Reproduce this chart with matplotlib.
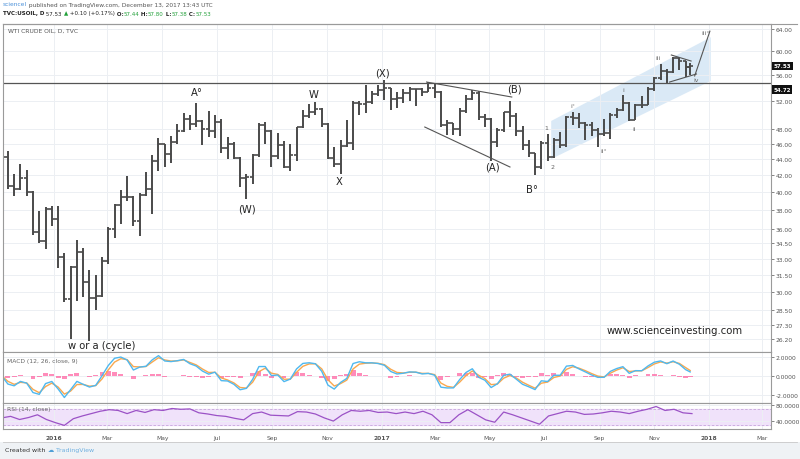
import matplotlib
matplotlib.use("Agg")
import matplotlib.pyplot as plt
import matplotlib.dates as mdates
import matplotlib.transforms as mtransforms
from matplotlib.patches import Polygon, Rectangle
import numpy as np
import pandas as pd

# ---------------- data (weekly bars) ----------------
week_ends = list(pd.date_range("2015-11-06", "2017-12-08", freq="W-FRI")) + [pd.Timestamp("2017-12-13")]
open_first = 46.6
close = [44.29, 40.74, 40.39, 41.71, 39.97, 35.62, 34.73, 38.10, 37.04,
         33.16, 29.42, 32.19, 33.62, 30.89, 29.44, 29.64, 32.78, 35.92, 38.50, 39.44, 39.46, 36.79,
         39.72, 40.36, 43.73, 45.92, 44.66, 46.21, 47.75, 49.33, 48.62, 49.07, 47.98, 47.64, 48.99,
         45.41, 45.95, 44.19, 41.60, 41.80, 44.49, 48.52, 47.64, 44.44, 45.88, 43.03, 44.48, 48.24,
         49.81, 50.35, 50.85, 48.70, 44.07, 43.41, 45.69, 46.06, 51.68, 51.50, 51.90, 53.02, 53.72,
         53.99, 52.37, 52.42, 53.17, 53.83, 53.86, 53.40, 53.99, 53.33, 48.49, 48.78, 47.97, 50.60,
         52.24, 53.18, 49.62, 49.33, 46.22, 47.84, 50.33, 49.80, 47.66, 45.83, 44.74, 43.01, 46.04,
         44.23, 46.54, 45.77, 49.71, 49.58, 48.82, 48.51, 47.87, 47.29, 47.48, 49.89, 50.66, 51.67,
         49.29, 51.45, 51.47, 53.90, 55.64, 56.74, 56.55, 58.95, 58.36, 57.36, 57.53]
high = [47.9, 45.0, 42.2, 43.4, 42.6, 40.1, 37.9, 38.3, 38.4,
        38.4, 33.6, 32.3, 34.8, 34.0, 32.0, 31.5, 33.2, 36.2, 38.6, 40.2, 41.9, 39.5, 39.9, 42.4,
        44.5, 46.8, 46.0, 47.0, 48.7, 50.2, 50.0, 51.67, 49.2, 50.5, 49.9, 49.4, 46.9, 46.2, 44.2,
        42.1, 44.7, 48.75, 48.9, 47.9, 47.4, 46.4, 46.0, 48.3, 50.7, 51.6, 51.9, 51.0, 48.8, 45.5,
        46.5, 49.2, 52.0, 52.0, 54.51, 53.6, 54.4,
        55.24, 54.0, 53.4, 53.9, 54.1, 53.9, 54.0, 54.9, 54.6, 53.6, 49.3, 48.8, 50.9, 52.9, 53.76,
        53.5, 50.1, 49.5, 48.1, 50.4, 52.0, 50.3, 48.4, 46.5, 44.8, 46.4, 47.3, 46.8, 47.5, 49.8,
        50.4, 50.2, 49.0, 48.9, 48.1, 49.4, 50.2, 51.0, 52.9, 51.8, 51.6, 52.8, 54.2, 55.7, 57.9,
        57.0, 59.05, 59.0, 58.4, 58.0]
low = [44.1, 40.4, 39.5, 40.2, 39.6, 35.3, 34.5, 33.98, 36.3,
       32.1, 29.13, 26.19, 29.25, 29.6, 26.05, 28.5, 29.6, 32.5, 35.0, 36.5, 39.0, 36.3, 35.2, 39.5,
       37.6, 42.5, 43.0, 43.5, 46.0, 47.5, 47.8, 48.3, 45.8, 46.9, 46.7, 44.8, 44.0, 44.0, 40.6,
       39.19, 41.0, 44.3, 46.0, 43.0, 44.0, 42.9, 42.5, 43.8, 48.1, 49.5, 49.9, 48.3, 44.0, 43.0,
       42.2, 45.5, 45.2, 49.9, 50.3, 51.5, 52.8,
       52.1, 50.7, 50.9, 51.7, 52.0, 51.2, 52.7, 53.3, 52.5, 48.3, 47.1, 47.1, 47.0, 50.2, 52.2,
       49.3, 48.2, 43.76, 45.5, 47.6, 48.2, 47.0, 45.2, 44.2, 42.05, 42.8, 43.8, 44.1, 45.4, 45.5,
       48.5, 48.1, 46.5, 47.0, 45.6, 47.0, 46.6, 49.5, 50.5, 49.1, 49.2, 51.0, 51.4, 53.6, 55.3,
       54.8, 56.3, 56.8, 55.8, 56.1]

# RSI (14, close) every 10 days
rsi_dates = pd.date_range("2015-11-04", periods=78, freq="10D")
rsi_values = [47, 51, 43, 48, 55, 43, 35, 28, 45, 52, 58, 64, 68, 66, 58, 66, 61, 68, 66, 71,
              69, 70, 60, 57, 53, 51, 46, 42, 58, 62, 54, 53, 52, 63, 62, 57, 47, 39, 55, 66,
              64, 66, 61, 62, 58, 62, 58, 64, 55, 35, 35, 55, 68, 55, 42, 36, 62, 55, 47, 39,
              31, 52, 58, 64, 62, 56, 57, 60, 64, 62, 58, 64, 69, 76, 66, 69, 60, 58]

price_ticks = [64, 60, 56, 52, 48, 46, 44, 42, 40, 38, 36, 34.5, 33, 31.5, 30, 28.5, 27.3, 26.2]
macd_ticks = [2, 0, -2]
rsi_ticks = [80, 40]
month_ticks = list(pd.date_range("2016-01-01", "2018-03-01", freq="2MS"))
month_labels = ["2016", "Mar", "May", "Jul", "Sep", "Nov", "2017", "Mar", "May", "Jul", "Sep", "Nov", "2018", "Mar"]

hline_level = 54.85
last_close = 57.53
line_tag = "54.72"
line_tag_y = 53.75

wave_labels = [("w or a (cycle)", "2016-02-24", 25.74), ("A°", "2016-06-09", 53.36),
               ("W", "2016-10-17", 53.07), ("(W)", "2016-08-04", 38.1), ("X", "2016-11-15", 41.3),
               ("(X)", "2017-01-02", 56.5), ("(B)", "2017-05-29", 53.84), ("(A)", "2017-05-05", 43.0),
               ("B°", "2017-06-18", 40.4)]
minor_labels = [("1", "2017-07-03", 48.25), ("2", "2017-07-11", 43.0), ("i°", "2017-08-02", 51.3),
                ("ii°", "2017-09-06", 45.1), ("i", "2017-09-27", 53.7), ("ii", "2017-10-09", 48.1),
                ("iii", "2017-11-05", 58.87), ("iv", "2017-12-18", 55.4), ("iii°", "2017-12-28", 63.45)]
channel_dates = ["2017-07-09", "2017-07-09", "2018-01-03", "2018-01-03"]
channel_prices = [44.0, 49.1, 62.5, 55.1]
trend_lines = [(("2017-02-20", 54.93), ("2017-05-26", 52.61)),
               (("2017-02-18", 48.25), ("2017-05-24", 43.0)),
               (("2017-11-20", 59.38), ("2017-12-12", 58.36)),
               (("2017-11-18", 54.93), ("2017-12-18", 56.22)),
               (("2017-12-16", 55.9), ("2018-01-02", 63.6))]

# ---------------- figure ----------------
W, H = 800, 460
fig = plt.figure(figsize=(8, 4.6), dpi=100)
fig.patch.set_facecolor("white")

def fx(px):
    return px / W

def fy(py):
    return 1 - py / H

L, R = 3, 771
ax = fig.add_axes([fx(L), fy(353), fx(R) - fx(L), fy(25) - fy(353)])
mx = fig.add_axes([fx(L), fy(404), fx(R) - fx(L), fy(353) - fy(404)], sharex=ax)
rx = fig.add_axes([fx(L), fy(430), fx(R) - fx(L), fy(404) - fy(430)], sharex=ax)

dn = mdates.date2num(week_ends) - 2.0
c = np.array(close)
o = np.r_[open_first, c[:-1]]
hi = np.array(high)
lo = np.array(low)

grid_c = "#eceff3"
spine_c = "#9a9a9a"
txt_c = "#555555"

for a in (ax, mx, rx):
    for s in a.spines.values():
        s.set_color(spine_c)
        s.set_linewidth(0.8)
    a.set_facecolor("white")
    a.yaxis.tick_right()
    a.tick_params(axis="y", which="both", labelsize=4.3, colors=txt_c, length=2, pad=1.5, width=0.5)
    a.tick_params(axis="x", which="both", length=0)
    a.set_xticks(mdates.date2num(month_ticks))
    a.grid(True, color=grid_c, lw=0.7)
    a.set_axisbelow(True)

x0 = mdates.date2num(pd.Timestamp("2016-01-01")) - 50.6 / 0.8966
x1 = mdates.date2num(pd.Timestamp("2018-01-01")) + 62 / 0.8966
ax.set_xlim(x0, x1)

# main price panel
ax.set_yscale("log")
ax.set_ylim(25.23, 64.93)
ax.yaxis.set_minor_locator(matplotlib.ticker.NullLocator())
ax.set_yticks(price_ticks)
ax.set_yticklabels(["%.2f" % v for v in price_ticks])
plt.setp(ax.get_xticklabels(), visible=False)
plt.setp(mx.get_xticklabels(), visible=False)

bar_c = "#4a4a4a"
ax.vlines(dn, lo, hi, color=bar_c, lw=1.4)
ax.hlines(o, dn - 3.4, dn, color=bar_c, lw=1.2)
ax.hlines(c, dn, dn + 3.4, color=bar_c, lw=1.2)

ax.axhline(hline_level, color="#555555", lw=0.9)

chan = Polygon(list(zip(mdates.date2num(pd.to_datetime(channel_dates)), channel_prices)),
               closed=True, fc="#d4e6f5", ec="none", alpha=0.85, zorder=0.5)
ax.add_patch(chan)
for (d1, p1), (d2, p2) in trend_lines:
    ax.plot(mdates.date2num(pd.to_datetime([d1, d2])), [p1, p2], color="#555555", lw=0.8)

for s, d, p in wave_labels:
    ax.text(mdates.date2num(pd.Timestamp(d)), p, s, fontsize=7.2, color="#222222",
            ha="center", va="center", clip_on=False)
for s, d, p in minor_labels:
    ax.text(mdates.date2num(pd.Timestamp(d)), p, s, fontsize=4.5, color="#666666",
            ha="center", va="center")

blend = mtransforms.blended_transform_factory(ax.transAxes, ax.transData)
for val, lab in ((last_close, "%.2f" % last_close), (line_tag_y, line_tag)):
    ax.text(1.003, val, lab, transform=blend, fontsize=4.0, color="white", fontweight="bold",
            ha="left", va="center", clip_on=False,
            bbox=dict(boxstyle="square,pad=0.3", fc="#111111", ec="none"))

# MACD panel (computed from the weekly closes, periods expressed in weeks)
alpha_fast = 1 - (1 - 2 / 13) ** 5
alpha_slow = 1 - (1 - 2 / 27) ** 5
alpha_sig = 1 - (1 - 2 / 10) ** 5
cs = pd.Series(c)
macd = cs.ewm(alpha=alpha_fast, adjust=False).mean() - cs.ewm(alpha=alpha_slow, adjust=False).mean()
signal = macd.ewm(alpha=alpha_sig, adjust=False).mean()
hist = macd - signal
mx.bar(dn, hist, width=5.5, color="#ff5c9d", alpha=0.7, lw=0)
mx.plot(dn, signal, color="#f9a84e", lw=1.0)
mx.plot(dn, macd, color="#4fb8ef", lw=1.0)
mx.set_ylim(-2.87, 2.49)
mx.set_yticks(macd_ticks)
mx.set_yticklabels(["%.4f" % v for v in macd_ticks])

# RSI panel
rx.axhspan(30, 70, color="#f0e2fa", zorder=0.4)
rx.axhline(70, color="#c7a6dc", lw=0.6, ls=(0, (3, 2)))
rx.axhline(30, color="#c7a6dc", lw=0.6, ls=(0, (3, 2)))
rx.plot(mdates.date2num(rsi_dates), rsi_values, color="#9b52c6", lw=0.9)
rx.set_ylim(18.8, 85)
rx.set_yticks(rsi_ticks)
rx.set_yticklabels(["%.4f" % v for v in rsi_ticks])
rx.set_xticklabels(month_labels)
rx.tick_params(axis="x", labelsize=4.3, colors=txt_c, pad=4)
for lab in rx.get_xticklabels():
    if lab.get_text().isdigit():
        lab.set_fontweight("bold")

# panel titles
fig.text(fx(8), fy(31), "WTI CRUDE OIL, D, TVC", fontsize=4.3, color="#555555", va="center")
fig.text(fx(7), fy(361), "MACD (12, 26, close, 9)", fontsize=4.3, color="#666666", va="center")
fig.text(fx(7), fy(410), "RSI (14, close)", fontsize=4.3, color="#666666", va="center")

fig.text(fx(675), fy(331), "www.scienceinvesting.com", fontsize=7.3, color="#222222",
         ha="center", va="center")

# header lines
renderer = fig.canvas.get_renderer()

def seq_text(x_px, y_px, parts, size):
    x = fx(x_px)
    for s, col, wt in parts:
        t = fig.text(x, fy(y_px), s, color=col, fontsize=size, fontweight=wt, va="center", ha="left")
        bb = t.get_window_extent(renderer=renderer)
        x += bb.width / W

seq_text(3, 5, [("scienceI", "#4a90d9", "normal"),
                (" published on TradingView.com, December 13, 2017 13:43 UTC", "#555555", "normal")], 4.2)
g = "#22a03a"
seq_text(3, 14, [("TVC:USOIL, D", "#222222", "bold"), (" 57.53 ", "#222222", "normal"),
                 ("▲", g, "normal"), (" +0.10 (+0.17%)", "#222222", "normal"),
                 (" O:", "#222222", "bold"), ("57.44", g, "normal"),
                 (" H:", "#222222", "bold"), ("57.80", g, "normal"),
                 (" L:", "#222222", "bold"), ("57.38", g, "normal"),
                 (" C:", "#222222", "bold"), ("57.53", g, "normal")], 4.0)

# footer
fig.patches.append(Rectangle((0, 0), 1, fy(443), transform=fig.transFigure, fc="#eff2f5", ec="none", zorder=-1))
fig.add_artist(plt.Line2D([fx(L), fx(797)], [fy(443), fy(443)], transform=fig.transFigure, color="#c8c8c8", lw=0.6))
fig.add_artist(plt.Line2D([fx(L), fx(797)], [fy(25), fy(25)], transform=fig.transFigure, color=spine_c, lw=0.8))
seq_text(5, 451, [("Created with ", "#333333", "normal"), ("☁", "#4f9fd6", "bold"),
                  (" TradingView", "#6fb0e0", "normal")], 4.5)

fig.savefig("out.png", dpi=100)
